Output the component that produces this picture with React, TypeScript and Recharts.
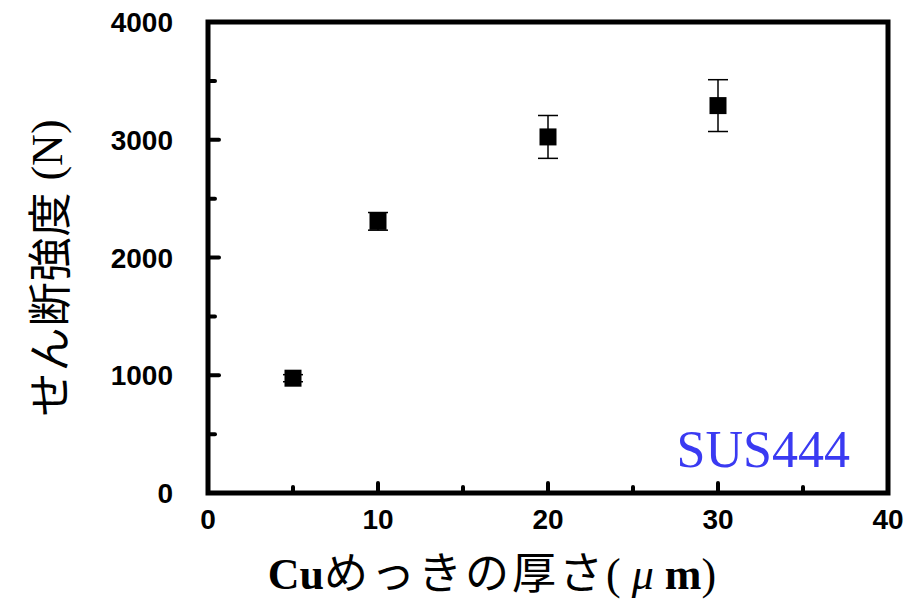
import { ScatterChart, Scatter, XAxis, YAxis, ErrorBar, ReferenceArea } from 'recharts';

// めっき厚さ (µm) とせん断強度 (N)
const thickness = [5, 10, 20, 30];
const strength = [975, 2307, 3024, 3290];
const strengthErr = [30, 75, 182, 220];

const xTicks = [0, 5, 10, 15, 20, 25, 30, 35, 40];
const yTicks = [0, 500, 1000, 1500, 2000, 2500, 3000, 3500, 4000];

const data = thickness.map((t, i) => ({ x: t, y: strength[i], err: strengthErr[i] }));

const tickFont = { fontFamily: 'Liberation Sans, Arial, sans-serif', fontWeight: 700, fontSize: 28, fill: '#000' };

const BottomTick = (props: any) => {
  const { x, y, payload } = props;
  const major = payload.value % 10 === 0;
  const edge = payload.value === 0 || payload.value === 40;
  return (
    <g>
      {!edge && (
        <line x1={x} y1={y} x2={x} y2={y - (major ? 10 : 6)} stroke="#000" strokeWidth={4} strokeLinecap="round" />
      )}
      {major && (
        <text x={x} y={y + 36} textAnchor="middle" {...tickFont}>
          {payload.value}
        </text>
      )}
    </g>
  );
};

const TopTick = (props: any) => {
  const { x, y, payload } = props;
  const major = payload.value % 10 === 0;
  if (payload.value === 0 || payload.value === 40) return <g />;
  return <line x1={x} y1={y} x2={x} y2={y + (major ? 10 : 6)} stroke="#000" strokeWidth={4} strokeLinecap="round" />;
};

const LeftTick = (props: any) => {
  const { x, y, payload } = props;
  const major = payload.value % 1000 === 0;
  const edge = payload.value === 0 || payload.value === 4000;
  return (
    <g>
      {!edge && (
        <line x1={x} y1={y} x2={x + (major ? 11 : 7)} y2={y} stroke="#000" strokeWidth={4} strokeLinecap="round" />
      )}
      {major && (
        <text x={x - 35} y={y + 10} textAnchor="end" {...tickFont}>
          {payload.value}
        </text>
      )}
    </g>
  );
};

const RightTick = (props: any) => {
  const { x, y, payload } = props;
  const major = payload.value % 1000 === 0;
  if (payload.value === 0 || payload.value === 4000) return <g />;
  return <line x1={x} y1={y} x2={x - (major ? 11 : 7)} y2={y} stroke="#000" strokeWidth={4} strokeLinecap="round" />;
};

const XTitle = () => (
  <g>
    <text x={492} y={589} textAnchor="middle" fill="#000" fontSize={44}>
      <tspan fontFamily="Liberation Serif, serif" fontWeight={700}>Cu</tspan>
      <tspan fontFamily="Noto Sans CJK JP, sans-serif" letterSpacing={3}>めっきの厚さ</tspan>
      <tspan fontFamily="Liberation Serif, serif">(</tspan>
      <tspan fontFamily="Liberation Serif, serif" fontStyle="italic"> μ</tspan>
      <tspan fontFamily="Liberation Serif, serif" fontWeight={700}> m</tspan>
      <tspan fontFamily="Liberation Serif, serif">)</tspan>
    </text>
    <text x={850} y={467} textAnchor="end" fill="#3a3af2" fontSize={52} fontFamily="Liberation Serif, serif">
      SUS444
    </text>
  </g>
);

const YTitle = () => (
  <text
    x={47}
    y={268}
    transform="rotate(-90, 47, 268)"
    textAnchor="middle"
    dominantBaseline="central"
    fill="#000"
    fontSize={44}
  >
    <tspan fontFamily="Noto Sans CJK JP, sans-serif" letterSpacing={1}>せん断強度</tspan>
    <tspan fontFamily="Liberation Serif, serif"> (N)</tspan>
  </text>
);

const Square = (props: any) => {
  const { cx, cy } = props;
  return <rect x={cx - 8.5} y={cy - 8.5} width={17} height={17} fill="#000" />;
};

export default function App() {
  return (
    <div style={{ position: 'fixed', left: 0, top: 0, background: '#fff' }}>
      <ScatterChart width={911} height={601} margin={{ top: 22, right: 23, bottom: 48, left: 88 }}>
        <XAxis
          dataKey="x"
          type="number"
          domain={[0, 40]}
          ticks={xTicks}
          interval={0}
          height={60}
          axisLine={false}
          tickLine={false}
          tickSize={0}
          tickMargin={0}
          tick={<BottomTick />}
          label={() => <XTitle />}
        />
        <XAxis
          xAxisId="top"
          orientation="top"
          type="number"
          domain={[0, 40]}
          ticks={xTicks}
          interval={0}
          height={0}
          axisLine={false}
          tickLine={false}
          tickSize={0}
          tickMargin={0}
          tick={<TopTick />}
        />
        <YAxis
          dataKey="y"
          type="number"
          domain={[0, 4000]}
          ticks={yTicks}
          interval={0}
          width={120}
          axisLine={false}
          tickLine={false}
          tickSize={0}
          tickMargin={0}
          tick={<LeftTick />}
          label={() => <YTitle />}
        />
        <YAxis
          yAxisId="right"
          orientation="right"
          type="number"
          domain={[0, 4000]}
          ticks={yTicks}
          interval={0}
          width={0}
          axisLine={false}
          tickLine={false}
          tickSize={0}
          tickMargin={0}
          tick={<RightTick />}
        />
        <ReferenceArea x1={0} x2={40} y1={0} y2={4000} fill="none" stroke="#000" strokeWidth={5} ifOverflow="visible" />
        <Scatter data={data} shape={<Square />} isAnimationActive={false}>
          <ErrorBar dataKey="err" direction="y" width={10} stroke="#000" strokeWidth={1.5} isAnimationActive={false} />
        </Scatter>
      </ScatterChart>
    </div>
  );
}
